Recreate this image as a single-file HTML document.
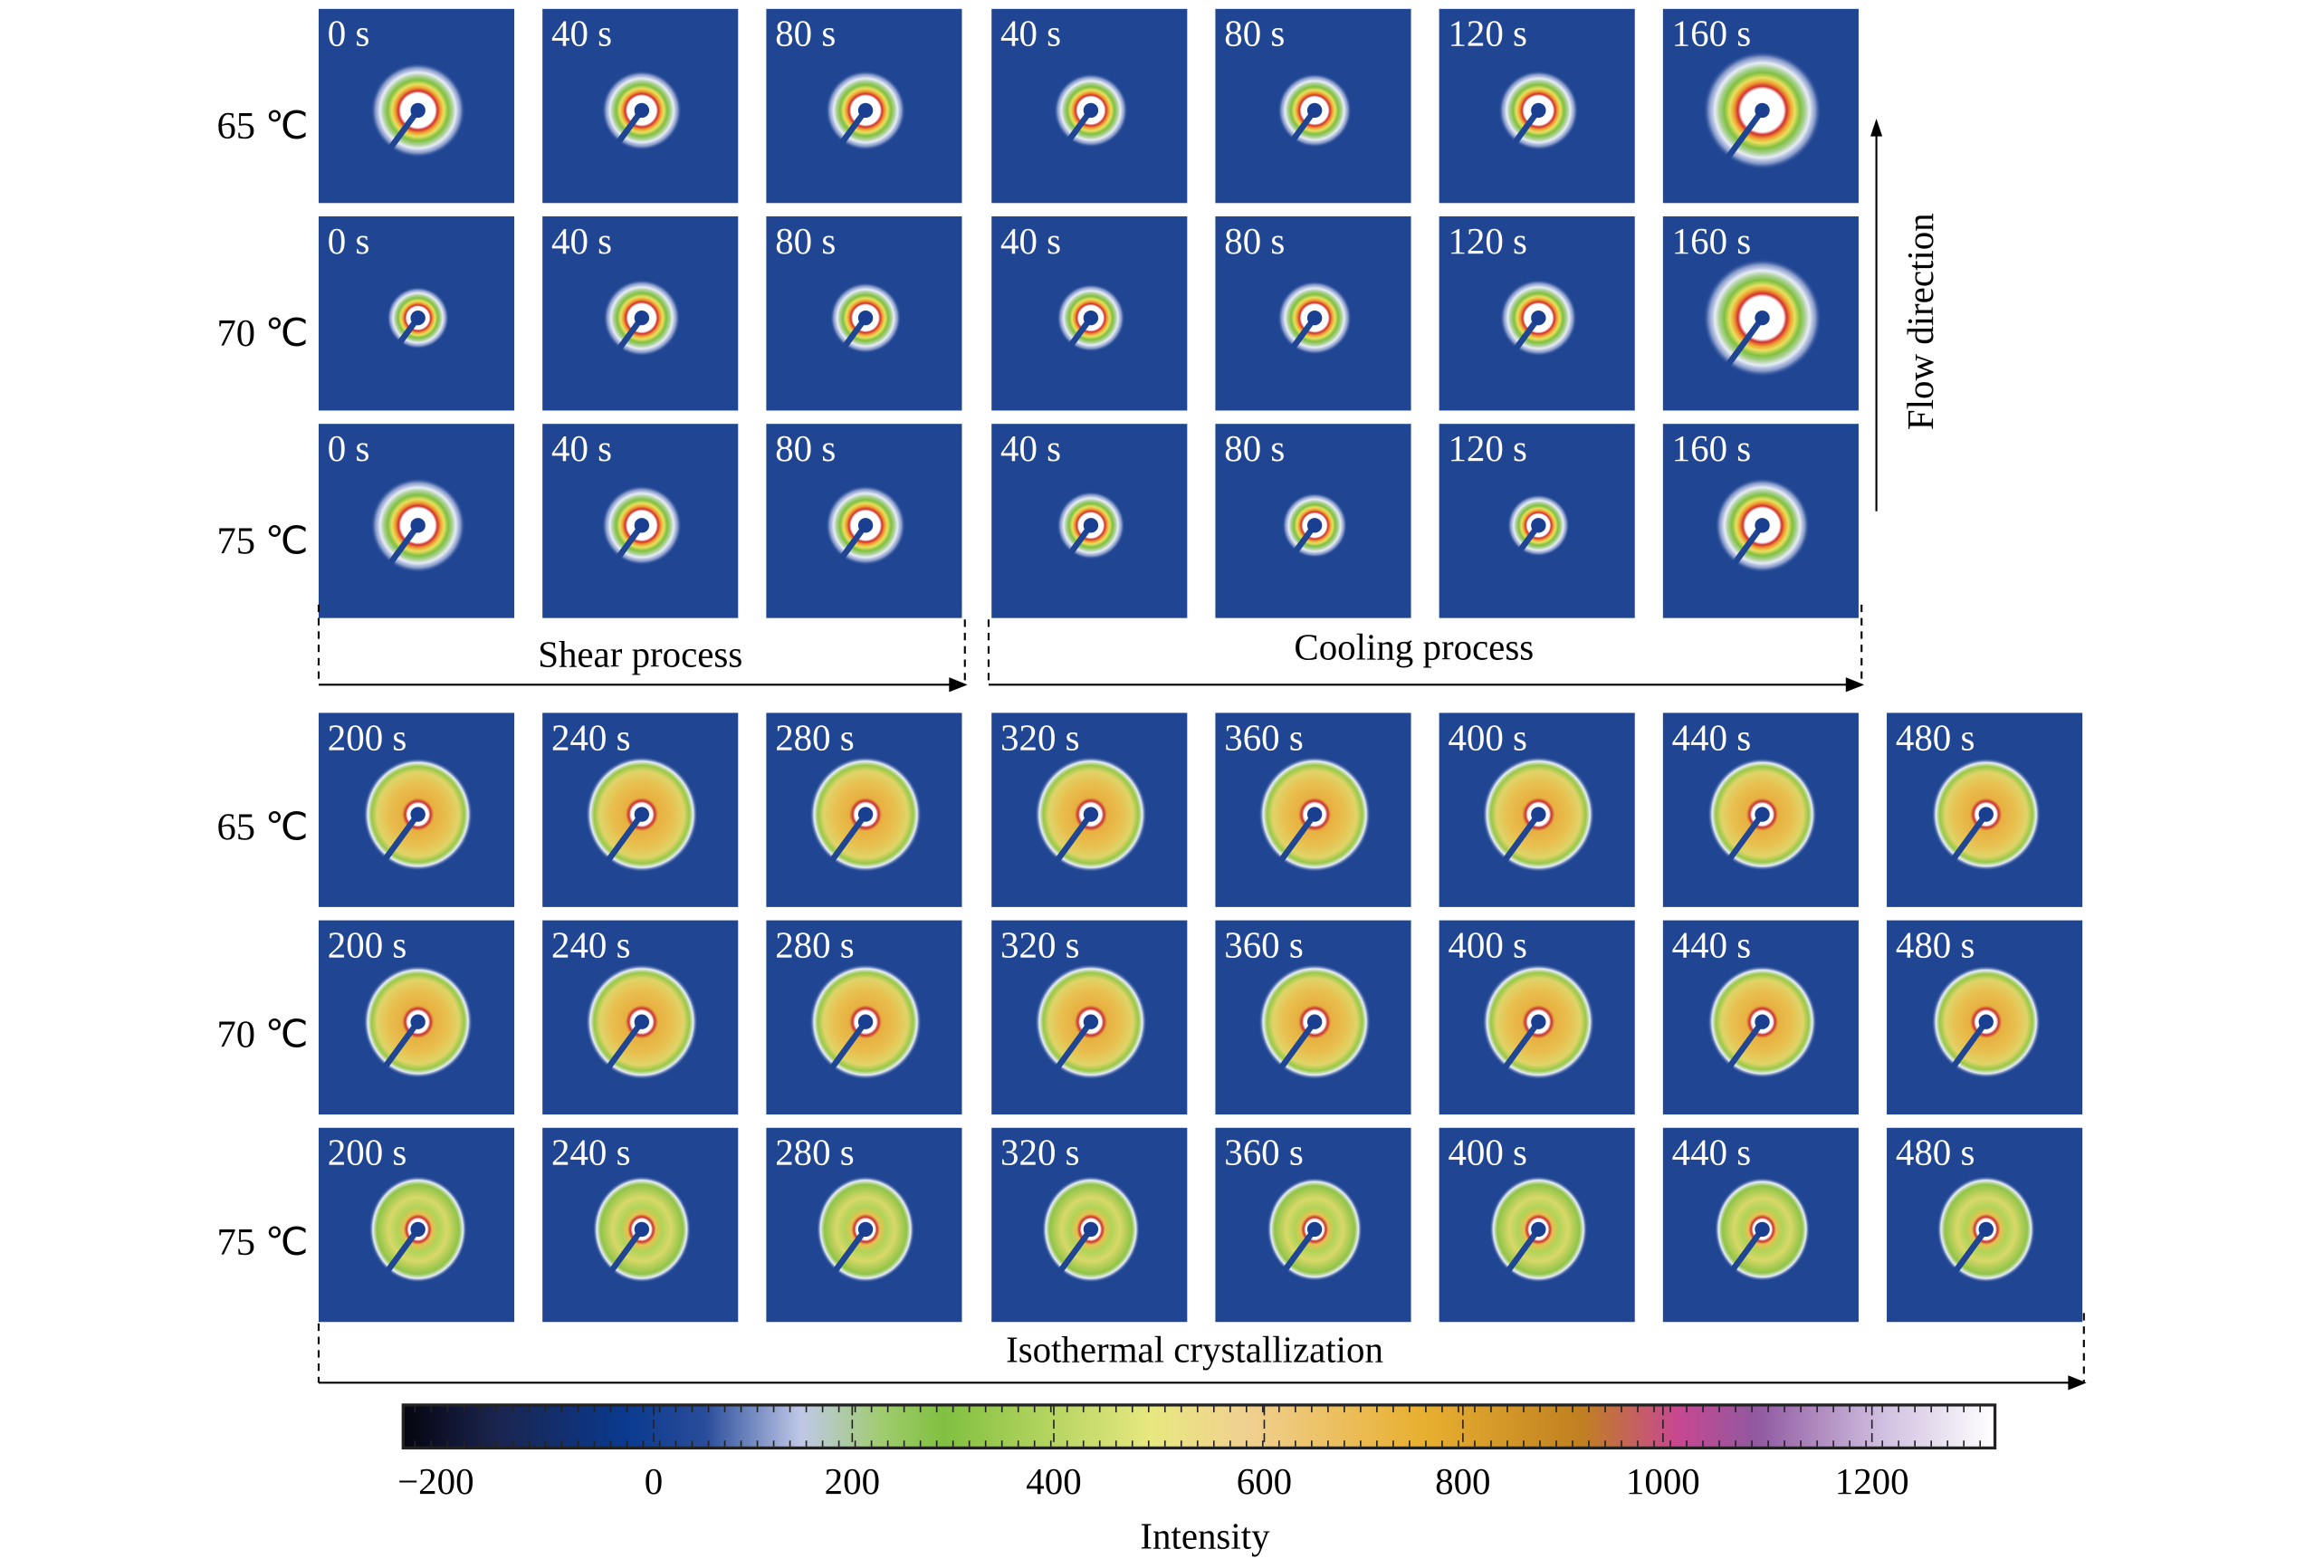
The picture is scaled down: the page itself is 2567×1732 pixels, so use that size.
<!DOCTYPE html>
<html><head><meta charset="utf-8"><style>
html,body{margin:0;padding:0;background:#fff;}
svg{display:block;}
text{font-family:"Liberation Serif",serif;}
</style></head><body>
<svg id="fig" width="2567" height="1732" viewBox="0 0 1568 1058" preserveAspectRatio="none" xmlns="http://www.w3.org/2000/svg">
<defs>
<radialGradient id="gRing">
<stop offset="0" stop-color="#ffffff"/><stop offset="0.36" stop-color="#ffffff"/>
<stop offset="0.41" stop-color="#d03030"/><stop offset="0.48" stop-color="#f0a030"/>
<stop offset="0.55" stop-color="#e8e060"/><stop offset="0.64" stop-color="#80c040"/>
<stop offset="0.72" stop-color="#a8d090"/><stop offset="0.8" stop-color="#e8ecf8"/>
<stop offset="0.9" stop-color="#c8d0ec" stop-opacity="0.6"/>
<stop offset="1" stop-color="#1f4593" stop-opacity="0"/>
</radialGradient>
<radialGradient id="gDisc65">
<stop offset="0" stop-color="#fff"/><stop offset="0.19" stop-color="#fff"/>
<stop offset="0.23" stop-color="#c83030"/><stop offset="0.29" stop-color="#e8b040"/>
<stop offset="0.55" stop-color="#e8c050"/><stop offset="0.75" stop-color="#e0d468"/>
<stop offset="0.85" stop-color="#98c848"/><stop offset="0.92" stop-color="#e8ecf8"/>
<stop offset="1" stop-color="#1f4593" stop-opacity="0"/>
</radialGradient>
<radialGradient id="gDisc75">
<stop offset="0" stop-color="#fff"/><stop offset="0.19" stop-color="#fff"/>
<stop offset="0.23" stop-color="#c83030"/><stop offset="0.29" stop-color="#e8c050"/>
<stop offset="0.42" stop-color="#b0d458"/><stop offset="0.6" stop-color="#d8d868"/>
<stop offset="0.84" stop-color="#90c448"/><stop offset="0.92" stop-color="#e8ecf8"/>
<stop offset="1" stop-color="#1f4593" stop-opacity="0"/>
</radialGradient>
<linearGradient id="cbar" x1="0" x2="1">
<stop offset="0" stop-color="#05050f"/><stop offset="0.06" stop-color="#1a2550"/>
<stop offset="0.14" stop-color="#0a3a8f"/><stop offset="0.19" stop-color="#2a4d9a"/>
<stop offset="0.25" stop-color="#c0c8e8"/><stop offset="0.3" stop-color="#a0cc70"/>
<stop offset="0.34" stop-color="#80c040"/><stop offset="0.47" stop-color="#e8e880"/>
<stop offset="0.53" stop-color="#f0d090"/><stop offset="0.64" stop-color="#e8b030"/>
<stop offset="0.74" stop-color="#c08020"/><stop offset="0.8" stop-color="#c84890"/>
<stop offset="0.85" stop-color="#9058a0"/><stop offset="0.93" stop-color="#d0c0e0"/>
<stop offset="1" stop-color="#ffffff"/>
</linearGradient>
</defs>
<g id="panels"></g>
<g id="labels" font-size="26" fill="#000"></g>

<g stroke="#000" stroke-width="1.3" fill="none">
<line x1="215" y1="408" x2="215" y2="462" stroke-dasharray="5,4"/>
<line x1="651" y1="418" x2="651" y2="462" stroke-dasharray="5,4"/>
<line x1="215" y1="462" x2="643" y2="462"/>
<path d="M641,458 L651,462 L641,466Z" fill="#000"/>
</g>
<text x="432" y="450" font-size="25" text-anchor="middle">Shear process</text>
<g stroke="#000" stroke-width="1.3" fill="none">
<line x1="667" y1="418" x2="667" y2="462" stroke-dasharray="5,4"/>
<line x1="1256" y1="408" x2="1256" y2="462" stroke-dasharray="5,4"/>
<line x1="667" y1="462" x2="1248" y2="462"/>
<path d="M1246,458 L1256,462 L1246,466Z" fill="#000"/>
</g>
<text x="954" y="445" font-size="25" text-anchor="middle">Cooling process</text>
<g stroke="#000" stroke-width="1.3" fill="none">
<line x1="215" y1="893" x2="215" y2="933" stroke-dasharray="5,4"/>
<line x1="1406" y1="886" x2="1406" y2="933" stroke-dasharray="5,4"/>
<line x1="215" y1="933" x2="1398" y2="933"/>
<path d="M1396,929 L1406,933 L1396,937Z" fill="#000"/>
</g>
<text x="806" y="919" font-size="25" text-anchor="middle">Isothermal crystallization</text>

<g>
<line x1="1266" y1="345" x2="1266" y2="88" stroke="#000" stroke-width="1.3"/>
<path d="M1262,92 L1266,80 L1270,92Z" fill="#000"/>
</g>
<text transform="translate(1304,217) rotate(-90)" font-size="25" text-anchor="middle">Flow direction</text>

<g>
<rect x="272" y="948" width="1074" height="29" fill="url(#cbar)" stroke="#222" stroke-width="2"/>
<g id="cbticks" stroke="#222" stroke-width="1"></g>
</g>
<g id="cblabels" font-size="25" text-anchor="middle"></g>
<text x="813" y="1045" font-size="25" text-anchor="middle">Intensity</text>
</svg>
<script>
const NS='http://www.w3.org/2000/svg';
const colX=[215,366,517,669,820,971,1122,1273];
const topRowY=[6,146,286];
const botRowY=[481,621,761];
const rowLabels=['65 ℃','70 ℃','75 ℃'];
const topTimes=['0 s','40 s','80 s','40 s','80 s','120 s','160 s'];
const botTimes=['200 s','240 s','280 s','320 s','360 s','400 s','440 s','480 s'];
const topRadii=[[32,27,27,25,25,27,40],[21,26,24,23,25,26,40],[32,27,27,23,22,21,32]];
const botRadii=[[38,39,39,39,39,39,38,38],[38,39,39,39,39,39,38,38],[36,36,36,36,35,36,35,36]];
const cbTickVals=[-200,0,200,400,600,800,1000,1200];
const cbTickPos=[294,441,575,711,853,987,1122,1263];
const PW=132,PH=131;
const panels=document.getElementById('panels');
function mk(tag,attrs,parent){const e=document.createElementNS(NS,tag);for(const k in attrs)e.setAttribute(k,attrs[k]);parent.appendChild(e);return e;}
function panel(x,y,r,grad,label,ell){
  const g=mk('g',{},panels);
  
  
  mk('rect',{x:x,y:y,width:PW,height:PH,fill:'#1f4593'},g);
  const cx=x+PW/2+1,cy=y+PH/2+3;
  mk('ellipse',{cx:cx,cy:cy,rx:r*ell,ry:r,fill:'url(#'+grad+')'},g);
  mk('line',{x1:cx,y1:cy,x2:cx-r*0.8-6,y2:cy+r*1.1+8,stroke:'#1f4593','stroke-width':4,'stroke-linecap':'round'},g);
  mk('circle',{cx:cx,cy:cy,r:Math.max(5,r*0.12),fill:'#1a3f90'},g);
  const t=mk('text',{x:x+6,y:y+25,fill:'#fff','font-size':25},g);
  
  
  t.textContent=label;
}
for(let i=0;i<3;i++){
  for(let j=0;j<7;j++) panel(colX[j],topRowY[i],topRadii[i][j],'gRing',topTimes[j],1);
  for(let j=0;j<8;j++) panel(colX[j],botRowY[i],botRadii[i][j],i==2?'gDisc75':'gDisc65',botTimes[j],i==2?0.92:0.97);
}
const lab=document.getElementById('labels');
[topRowY,botRowY].forEach((rows,k)=>rows.forEach((y,i)=>{
  const t=mk('text',{x:208,y:y+PH/2+(k==0?22:20),'text-anchor':'end'},lab);
  
  
  t.textContent=rowLabels[i];
}));
const tk=document.getElementById('cbticks');
for(let x=280;x<1346;x+=11){mk('line',{x1:x,y1:949,x2:x,y2:953},tk);mk('line',{x1:x,y1:972,x2:x,y2:976},tk);}
const cbl=document.getElementById('cblabels');
cbTickVals.forEach((v,i)=>{
  if(i>0)mk('line',{x1:cbTickPos[i],y1:949,x2:cbTickPos[i],y2:976,'stroke-dasharray':'6,3'},tk);
  const t=mk('text',{x:cbTickPos[i],y:1008},cbl);
  
  
  t.textContent=v<0?'−'+Math.abs(v):String(v);
});
</script>
</body></html>
